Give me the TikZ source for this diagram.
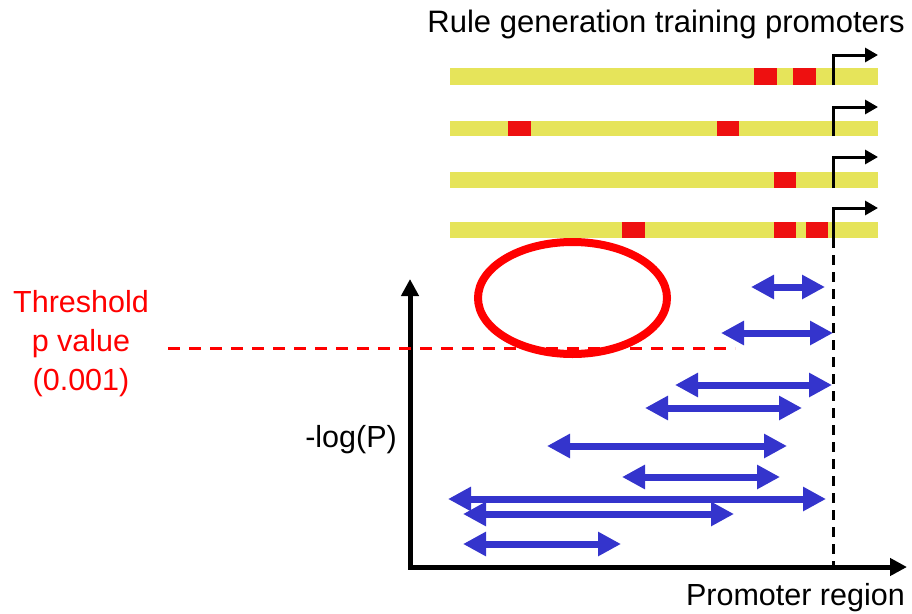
\documentclass[tikz,border=0pt]{standalone}
\usepackage{fontspec}
\setmainfont{Liberation Sans}
\usetikzlibrary{arrows.meta}
\definecolor{dnaYellow}{RGB}{230,228,90}
\definecolor{siteRed}{RGB}{238,16,16}
\definecolor{spanBlue}{RGB}{52,52,204}
\definecolor{thrRed}{RGB}{255,0,0}
\tikzset{
  bigfont/.style={font=\fontsize{30.5}{39}\selectfont},
  seqbar/.style={fill=dnaYellow, draw=none},
  site/.style={fill=siteRed, draw=none},
  tss/.style={line width=3pt, -{Triangle[length=13pt,width=14pt]}, line join=miter},
  span/.style={spanBlue, line width=7pt,
    {Triangle[length=23pt,width=23pt]}-{Triangle[length=23pt,width=23pt]}},
  axis/.style={line width=5pt, line join=miter,
    {Triangle[length=17pt,width=17pt]}-{Triangle[length=17pt,width=17pt]}},
  thrline/.style={thrRed, line width=3pt, dash pattern=on 12pt off 9pt},
  tssline/.style={line width=3pt, dash pattern=on 10pt off 7pt},
}
\begin{document}
\begin{tikzpicture}[x=1pt,y=-1pt]
\useasboundingbox (0,0) rectangle (912,613);

% title
\node[font=\fontsize{31}{39}\selectfont, anchor=base east, inner sep=0] (title) at (905,32) {Rule generation training promoters};

% training promoter sequences with motif sites
\fill[seqbar] (450,68) rectangle (878,85);
\fill[site] (754,68) rectangle (777,85);
\fill[site] (793,68) rectangle (816,85);

\fill[seqbar] (450,121) rectangle (878,136);
\fill[site] (508,121) rectangle (531,136);
\fill[site] (717,121) rectangle (739,136);

\fill[seqbar] (450,172) rectangle (878,188);
\fill[site] (774,172) rectangle (796,188);

\fill[seqbar] (450,222) rectangle (878,238);
\fill[site] (622,222) rectangle (645,238);
\fill[site] (774,222) rectangle (796,238);
\fill[site] (806,222) rectangle (828,238);

% transcription start sites
\coordinate (s1) at (833,85);  \coordinate (k1) at (833,55);  \coordinate (e1) at (878,55);
\coordinate (s2) at (833,136); \coordinate (k2) at (833,107); \coordinate (e2) at (878,107);
\coordinate (s3) at (833,188); \coordinate (k3) at (833,157); \coordinate (e3) at (878,157);
\coordinate (s4) at (833,238); \coordinate (k4) at (833,208); \coordinate (e4) at (878,208);
\draw[tss] (s1) -- (k1) -- (e1);
\draw[tss] (s2) -- (k2) -- (e2);
\draw[tss] (s3) -- (k3) -- (e3);
\draw[tss] (s4) -- (k4) -- (e4);

% axes
\coordinate (ytop) at (410,279);
\coordinate (origin) at (410,567);
\coordinate (xend) at (907,567);
\draw[axis] (ytop) -- (origin) -- (xend);

% TSS position on the x axis
\coordinate (tssbase) at (833,565);
\draw[tssline] (s4) -- (tssbase);

% threshold
\coordinate (thrL) at (168,348);
\coordinate (thrR) at (735,348);
\draw[thrline] (thrL) -- (thrR);
\node[bigfont, text=thrRed, align=center, anchor=base, inner sep=0] (thr) at (81,390)
  {Threshold\\p value\\(0.001)};

% highlighted empty region
\draw[thrRed, line width=8pt] (572.5,298) ellipse [x radius=94.5, y radius=56];

% axis labels
\node[bigfont, anchor=base east, inner sep=0] (ylab) at (397,447) {-log(P)};
\node[bigfont, anchor=base east, inner sep=0] (xlab) at (905,605) {Promoter region};

% significant motif windows
\foreach \i/\a/\b/\y in {1/751/825/287, 2/721/833/333, 3/675/832/385, 4/645/802/408,
                         5/547/787/446, 6/622/780/477, 7/448/826/499, 8/463/734/514,
                         9/463/621/544} {
  \coordinate (wL\i) at (\a,\y);
  \coordinate (wR\i) at (\b,\y);
  \draw[span] (wL\i) -- (wR\i);
}
\end{tikzpicture}
\end{document}
